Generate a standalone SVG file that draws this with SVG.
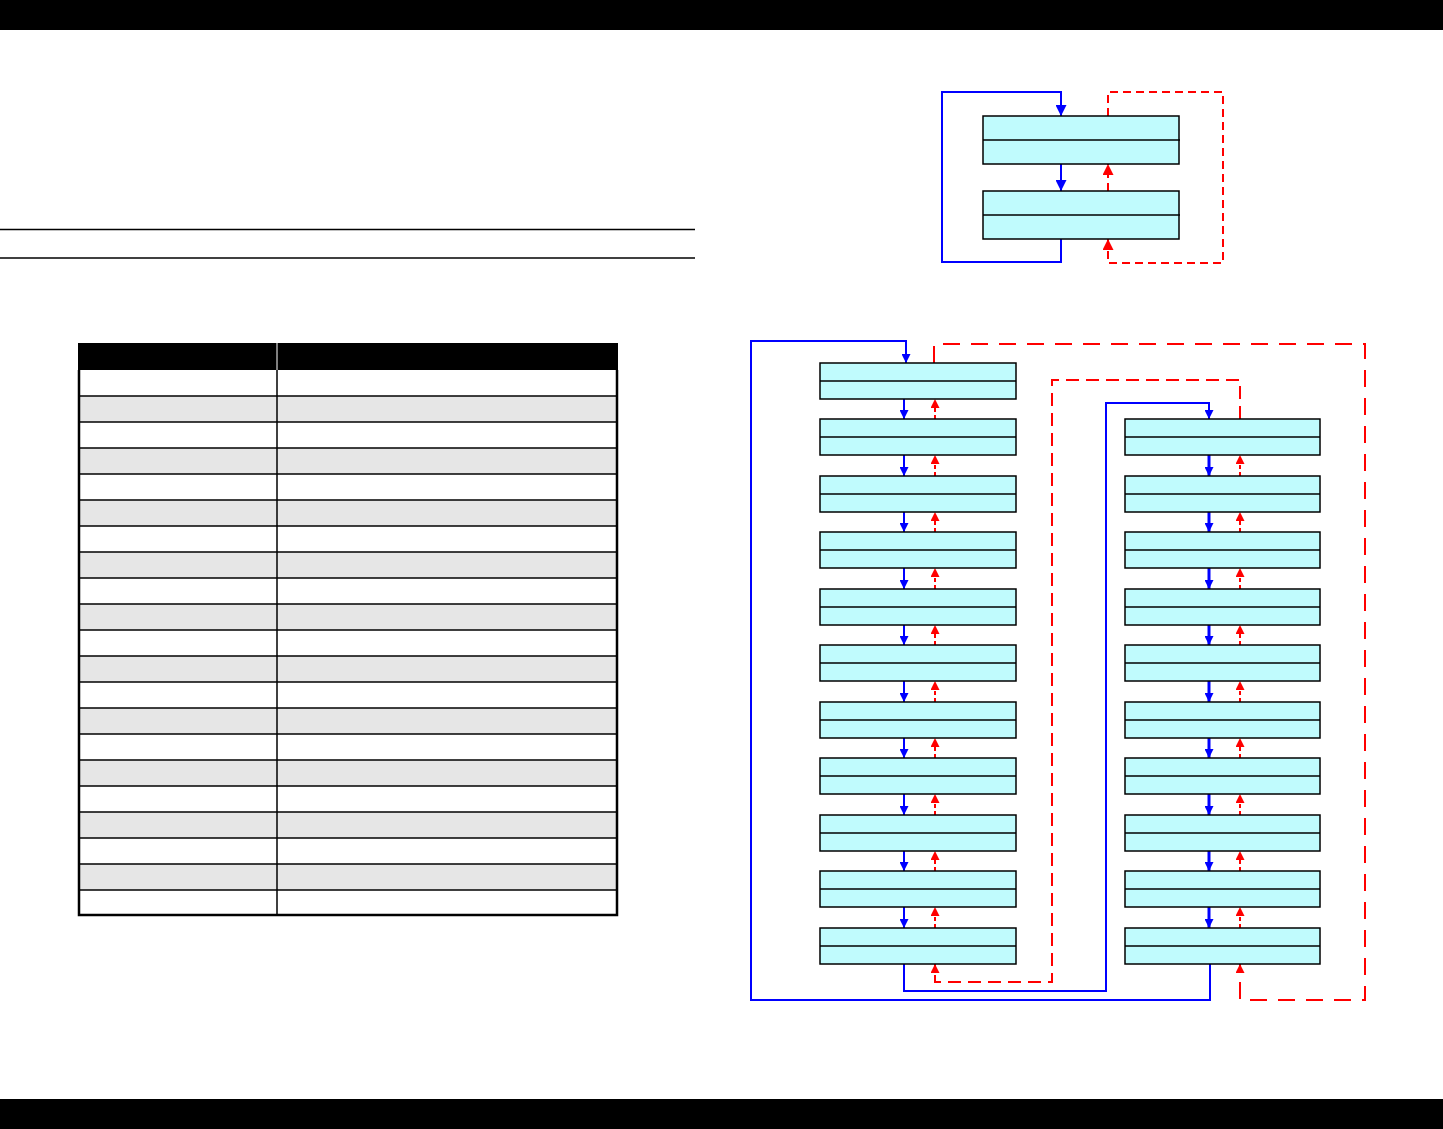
<svg xmlns="http://www.w3.org/2000/svg" width="1443" height="1129" viewBox="0 0 1443 1129">
<style>
.bx{fill:#C0FBFD;stroke:#000;stroke-width:1.5}
.dv{stroke:#000;stroke-width:1.5}
.bl{fill:none;stroke:#0000FF;stroke-width:2}
.bl3{fill:none;stroke:#0000FF;stroke-width:3}
.rd{fill:none;stroke:#FF0000;stroke-width:2;stroke-dasharray:4 3}
.rdt{fill:none;stroke:#FF0000;stroke-width:2;stroke-dasharray:8 5}
.rdi{fill:none;stroke:#FF0000;stroke-width:2;stroke-dasharray:13 7}
.rdo{fill:none;stroke:#FF0000;stroke-width:2;stroke-dasharray:17 11}
.rl{stroke:#000;stroke-width:1.5}
.g{fill:#E6E6E6}
</style>
<defs>
<marker id="ab" viewBox="0 0 10 10" refX="10" refY="5" markerUnits="userSpaceOnUse" markerWidth="9" markerHeight="9" orient="auto"><path d="M0,0 L10,5 L0,10 z" fill="#0000FF"/></marker>
<marker id="ar" viewBox="0 0 10 10" refX="10" refY="5" markerUnits="userSpaceOnUse" markerWidth="9" markerHeight="9" orient="auto"><path d="M0,0 L10,5 L0,10 z" fill="#FF0000"/></marker>
<marker id="abL" viewBox="0 0 10 10" refX="10" refY="5" markerUnits="userSpaceOnUse" markerWidth="11" markerHeight="11" orient="auto"><path d="M0,0 L10,5 L0,10 z" fill="#0000FF"/></marker>
<marker id="arL" viewBox="0 0 10 10" refX="10" refY="5" markerUnits="userSpaceOnUse" markerWidth="11" markerHeight="11" orient="auto"><path d="M0,0 L10,5 L0,10 z" fill="#FF0000"/></marker>
</defs>
<rect x="0" y="0" width="1443" height="30" fill="#000"/>
<rect x="0" y="1099" width="1443" height="30" fill="#000"/>
<line x1="0" y1="229.5" x2="695" y2="229.5" class="rl"/>
<line x1="0" y1="258" x2="695" y2="258" class="rl"/>
<g id="table">
<rect x="78" y="343" width="540" height="27" fill="#000"/>
<line x1="277" y1="343" x2="277" y2="370" stroke="#fff" stroke-width="1"/>
<rect class="g" x="79" y="396" width="538" height="26"/>
<rect class="g" x="79" y="448" width="538" height="26"/>
<rect class="g" x="79" y="500" width="538" height="26"/>
<rect class="g" x="79" y="552" width="538" height="26"/>
<rect class="g" x="79" y="604" width="538" height="26"/>
<rect class="g" x="79" y="656" width="538" height="26"/>
<rect class="g" x="79" y="708" width="538" height="26"/>
<rect class="g" x="79" y="760" width="538" height="26"/>
<rect class="g" x="79" y="812" width="538" height="26"/>
<rect class="g" x="79" y="864" width="538" height="26"/>
<g class="rl">
<line x1="79" y1="396" x2="617" y2="396"/><line x1="79" y1="422" x2="617" y2="422"/>
<line x1="79" y1="448" x2="617" y2="448"/><line x1="79" y1="474" x2="617" y2="474"/>
<line x1="79" y1="500" x2="617" y2="500"/><line x1="79" y1="526" x2="617" y2="526"/>
<line x1="79" y1="552" x2="617" y2="552"/><line x1="79" y1="578" x2="617" y2="578"/>
<line x1="79" y1="604" x2="617" y2="604"/><line x1="79" y1="630" x2="617" y2="630"/>
<line x1="79" y1="656" x2="617" y2="656"/><line x1="79" y1="682" x2="617" y2="682"/>
<line x1="79" y1="708" x2="617" y2="708"/><line x1="79" y1="734" x2="617" y2="734"/>
<line x1="79" y1="760" x2="617" y2="760"/><line x1="79" y1="786" x2="617" y2="786"/>
<line x1="79" y1="812" x2="617" y2="812"/><line x1="79" y1="838" x2="617" y2="838"/>
<line x1="79" y1="864" x2="617" y2="864"/><line x1="79" y1="890" x2="617" y2="890"/>
<line x1="277" y1="370" x2="277" y2="915"/>
</g>
<path d="M79,370 V915 H617 V370" fill="none" stroke="#000" stroke-width="2.5"/>
</g>
<g id="connectors">
<path class="bl" d="M1061,239 V262 H942 V92 H1061 V116" marker-end="url(#abL)"/>
<path class="bl" d="M1061,164 V191" marker-end="url(#abL)"/>
<path class="rdt" d="M1108,191 V164" marker-end="url(#arL)"/>
<path class="rdt" d="M1108,116 V92 H1223 V263 H1108 V239" marker-end="url(#arL)"/>
<path class="bl" d="M1210,964 V1000 H751 V341 H906 V363" marker-end="url(#ab)"/>
<path class="bl" d="M904,964 V991 H1106 V403 H1209 V419" marker-end="url(#ab)"/>
<path class="rdo" d="M934,363 V344 H1365 V1000 H1240 V964" marker-end="url(#ar)"/>
<path class="rdi" d="M1240,419 V380 H1052 V982 H935 V964" marker-end="url(#ar)"/>
<path class="bl" d="M904,399 V419" marker-end="url(#ab)"/><path class="rd" d="M935,419 V399" marker-end="url(#ar)"/>
<path class="bl" d="M904,455 V476" marker-end="url(#ab)"/><path class="rd" d="M935,476 V455" marker-end="url(#ar)"/>
<path class="bl" d="M904,512 V532" marker-end="url(#ab)"/><path class="rd" d="M935,532 V512" marker-end="url(#ar)"/>
<path class="bl" d="M904,568 V589" marker-end="url(#ab)"/><path class="rd" d="M935,589 V568" marker-end="url(#ar)"/>
<path class="bl" d="M904,625 V645" marker-end="url(#ab)"/><path class="rd" d="M935,645 V625" marker-end="url(#ar)"/>
<path class="bl" d="M904,681 V702" marker-end="url(#ab)"/><path class="rd" d="M935,702 V681" marker-end="url(#ar)"/>
<path class="bl" d="M904,738 V758" marker-end="url(#ab)"/><path class="rd" d="M935,758 V738" marker-end="url(#ar)"/>
<path class="bl" d="M904,794 V815" marker-end="url(#ab)"/><path class="rd" d="M935,815 V794" marker-end="url(#ar)"/>
<path class="bl" d="M904,851 V871" marker-end="url(#ab)"/><path class="rd" d="M935,871 V851" marker-end="url(#ar)"/>
<path class="bl" d="M904,907 V928" marker-end="url(#ab)"/><path class="rd" d="M935,928 V907" marker-end="url(#ar)"/>
<path class="bl3" d="M1209,455 V476" marker-end="url(#ab)"/><path class="rd" d="M1240,476 V455" marker-end="url(#ar)"/>
<path class="bl3" d="M1209,512 V532" marker-end="url(#ab)"/><path class="rd" d="M1240,532 V512" marker-end="url(#ar)"/>
<path class="bl3" d="M1209,568 V589" marker-end="url(#ab)"/><path class="rd" d="M1240,589 V568" marker-end="url(#ar)"/>
<path class="bl3" d="M1209,625 V645" marker-end="url(#ab)"/><path class="rd" d="M1240,645 V625" marker-end="url(#ar)"/>
<path class="bl3" d="M1209,681 V702" marker-end="url(#ab)"/><path class="rd" d="M1240,702 V681" marker-end="url(#ar)"/>
<path class="bl3" d="M1209,738 V758" marker-end="url(#ab)"/><path class="rd" d="M1240,758 V738" marker-end="url(#ar)"/>
<path class="bl3" d="M1209,794 V815" marker-end="url(#ab)"/><path class="rd" d="M1240,815 V794" marker-end="url(#ar)"/>
<path class="bl3" d="M1209,851 V871" marker-end="url(#ab)"/><path class="rd" d="M1240,871 V851" marker-end="url(#ar)"/>
<path class="bl3" d="M1209,907 V928" marker-end="url(#ab)"/><path class="rd" d="M1240,928 V907" marker-end="url(#ar)"/>
</g>
<g id="tA"><rect class="bx" x="983" y="116" width="196" height="48"/><line class="dv" x1="983" y1="140" x2="1180" y2="140"/></g>
<g id="tB"><rect class="bx" x="983" y="191" width="196" height="48"/><line class="dv" x1="983" y1="215" x2="1180" y2="215"/></g>
<g id="L0"><rect class="bx" x="820" y="363" width="196" height="36"/><line class="dv" x1="820" y1="381" x2="1016" y2="381"/></g>
<g id="L1"><rect class="bx" x="820" y="419" width="196" height="36"/><line class="dv" x1="820" y1="437" x2="1016" y2="437"/></g>
<g id="L2"><rect class="bx" x="820" y="476" width="196" height="36"/><line class="dv" x1="820" y1="494" x2="1016" y2="494"/></g>
<g id="L3"><rect class="bx" x="820" y="532" width="196" height="36"/><line class="dv" x1="820" y1="550" x2="1016" y2="550"/></g>
<g id="L4"><rect class="bx" x="820" y="589" width="196" height="36"/><line class="dv" x1="820" y1="607" x2="1016" y2="607"/></g>
<g id="L5"><rect class="bx" x="820" y="645" width="196" height="36"/><line class="dv" x1="820" y1="663" x2="1016" y2="663"/></g>
<g id="L6"><rect class="bx" x="820" y="702" width="196" height="36"/><line class="dv" x1="820" y1="720" x2="1016" y2="720"/></g>
<g id="L7"><rect class="bx" x="820" y="758" width="196" height="36"/><line class="dv" x1="820" y1="776" x2="1016" y2="776"/></g>
<g id="L8"><rect class="bx" x="820" y="815" width="196" height="36"/><line class="dv" x1="820" y1="833" x2="1016" y2="833"/></g>
<g id="L9"><rect class="bx" x="820" y="871" width="196" height="36"/><line class="dv" x1="820" y1="889" x2="1016" y2="889"/></g>
<g id="L10"><rect class="bx" x="820" y="928" width="196" height="36"/><line class="dv" x1="820" y1="946" x2="1016" y2="946"/></g>
<g id="R1"><rect class="bx" x="1125" y="419" width="195" height="36"/><line class="dv" x1="1125" y1="437" x2="1320" y2="437"/></g>
<g id="R2"><rect class="bx" x="1125" y="476" width="195" height="36"/><line class="dv" x1="1125" y1="494" x2="1320" y2="494"/></g>
<g id="R3"><rect class="bx" x="1125" y="532" width="195" height="36"/><line class="dv" x1="1125" y1="550" x2="1320" y2="550"/></g>
<g id="R4"><rect class="bx" x="1125" y="589" width="195" height="36"/><line class="dv" x1="1125" y1="607" x2="1320" y2="607"/></g>
<g id="R5"><rect class="bx" x="1125" y="645" width="195" height="36"/><line class="dv" x1="1125" y1="663" x2="1320" y2="663"/></g>
<g id="R6"><rect class="bx" x="1125" y="702" width="195" height="36"/><line class="dv" x1="1125" y1="720" x2="1320" y2="720"/></g>
<g id="R7"><rect class="bx" x="1125" y="758" width="195" height="36"/><line class="dv" x1="1125" y1="776" x2="1320" y2="776"/></g>
<g id="R8"><rect class="bx" x="1125" y="815" width="195" height="36"/><line class="dv" x1="1125" y1="833" x2="1320" y2="833"/></g>
<g id="R9"><rect class="bx" x="1125" y="871" width="195" height="36"/><line class="dv" x1="1125" y1="889" x2="1320" y2="889"/></g>
<g id="R10"><rect class="bx" x="1125" y="928" width="195" height="36"/><line class="dv" x1="1125" y1="946" x2="1320" y2="946"/></g>
</svg>
